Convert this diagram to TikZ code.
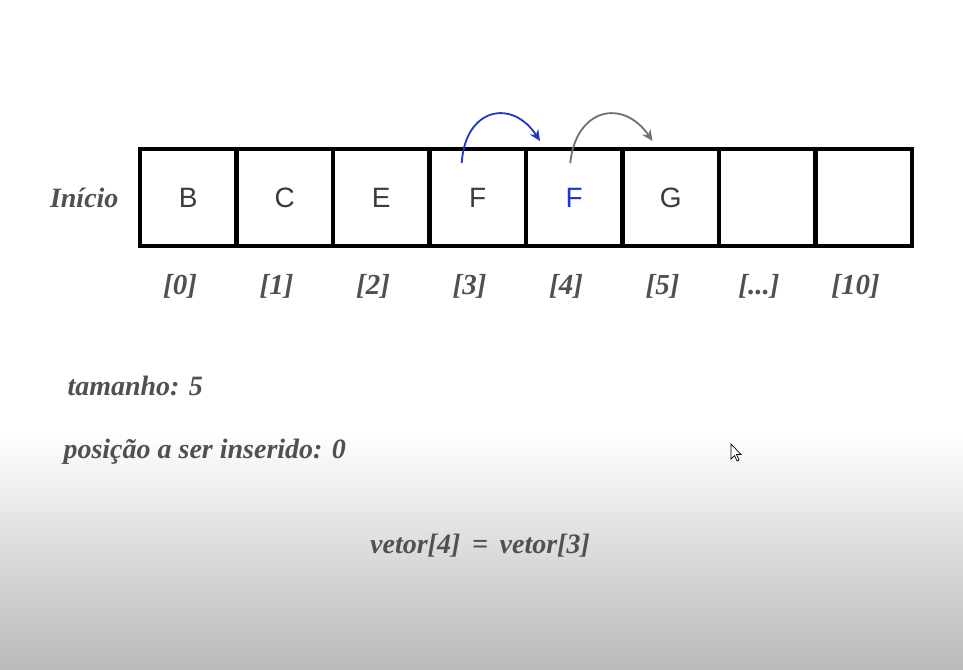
\documentclass[tikz,border=0pt]{standalone}
\usepackage{fontspec}
\setmainfont{Liberation Serif}
\newfontfamily\cellfont{Liberation Sans}
\usetikzlibrary{arrows.meta}
\definecolor{txtgray}{HTML}{505050}
\definecolor{lettergray}{HTML}{3C3C3C}
\definecolor{arrblue}{HTML}{2236C0}
\definecolor{fblue}{HTML}{1F35D0}
\definecolor{arrgray}{HTML}{707070}
\definecolor{bggray}{HTML}{B9B9B9}
\tikzset{
  cellbox/.style={draw=black, line width=4.5pt, minimum width=96.5pt, minimum height=97pt, inner sep=0pt, outer sep=0pt,
    font=\cellfont\fontsize{28}{30}\selectfont, text=lettergray},
  idx/.style={font=\bfseries\itshape\fontsize{29}{32}\selectfont, text=txtgray},
  lbl/.style={font=\bfseries\itshape\fontsize{28}{32}\selectfont, text=txtgray},
  move/.style={line width=1.8pt, -{Stealth[length=11pt,width=10pt]}}
}
\begin{document}
\begin{tikzpicture}[x=1pt,y=-1pt]
\useasboundingbox (0,0) rectangle (963,669);
\fill[white] (0,0) rectangle (963,432);
\shade[top color=white, bottom color=bggray] (0,431) rectangle (963,669);
% cells
\foreach \i/\t in {0/B,1/C,2/E,3/F,4/{\textcolor{fblue}{F}},5/G,6/{},7/{}} {
  \node[cellbox] (c\i) at ({188.25+96.5*\i},197.5) {\t};
}
\foreach \i/\t in {0/{[0]},1/{[1]},2/{[2]},3/{[3]},4/{[4]},5/{[5]},6/{[...]},7/{[10]}} {
  \node[idx] (i\i) at ({180+96.5*\i},286) {\t};
}
\node[lbl, anchor=east] (inicio) at (122,198) {Início};
\node[lbl, anchor=west] (tam) at (64,386) {tamanho: 5};
\node[lbl, anchor=west] (pos) at (60,452) {posição a ser inserido: 0};
\node[lbl] (expr) at (480,546) {vetor[4] \,=\, vetor[3]};
% arrows
\coordinate (s1) at ([xshift=-16pt,yshift=-14pt]c3.north);
\coordinate (e1) at ([xshift=14pt,yshift=8pt]c4.north west);
\coordinate (s2) at ([xshift=-4pt,yshift=-14pt]c4.north);
\coordinate (e2) at ([xshift=30pt,yshift=8pt]c5.north west);
\draw[move, arrblue] (s1) .. controls (465,108) and (512,98) .. (e1);
\draw[move, arrgray] (s2) .. controls (576,108) and (623,98) .. (e2);
% mouse cursor
\filldraw[fill=white, draw=black, line width=0.7pt]
  (731,444) -- (731,459) -- (734.5,455.5) -- (737,461) -- (739,460) -- (736.5,454.5) -- (741,454.5) -- cycle;
\end{tikzpicture}
\end{document}
